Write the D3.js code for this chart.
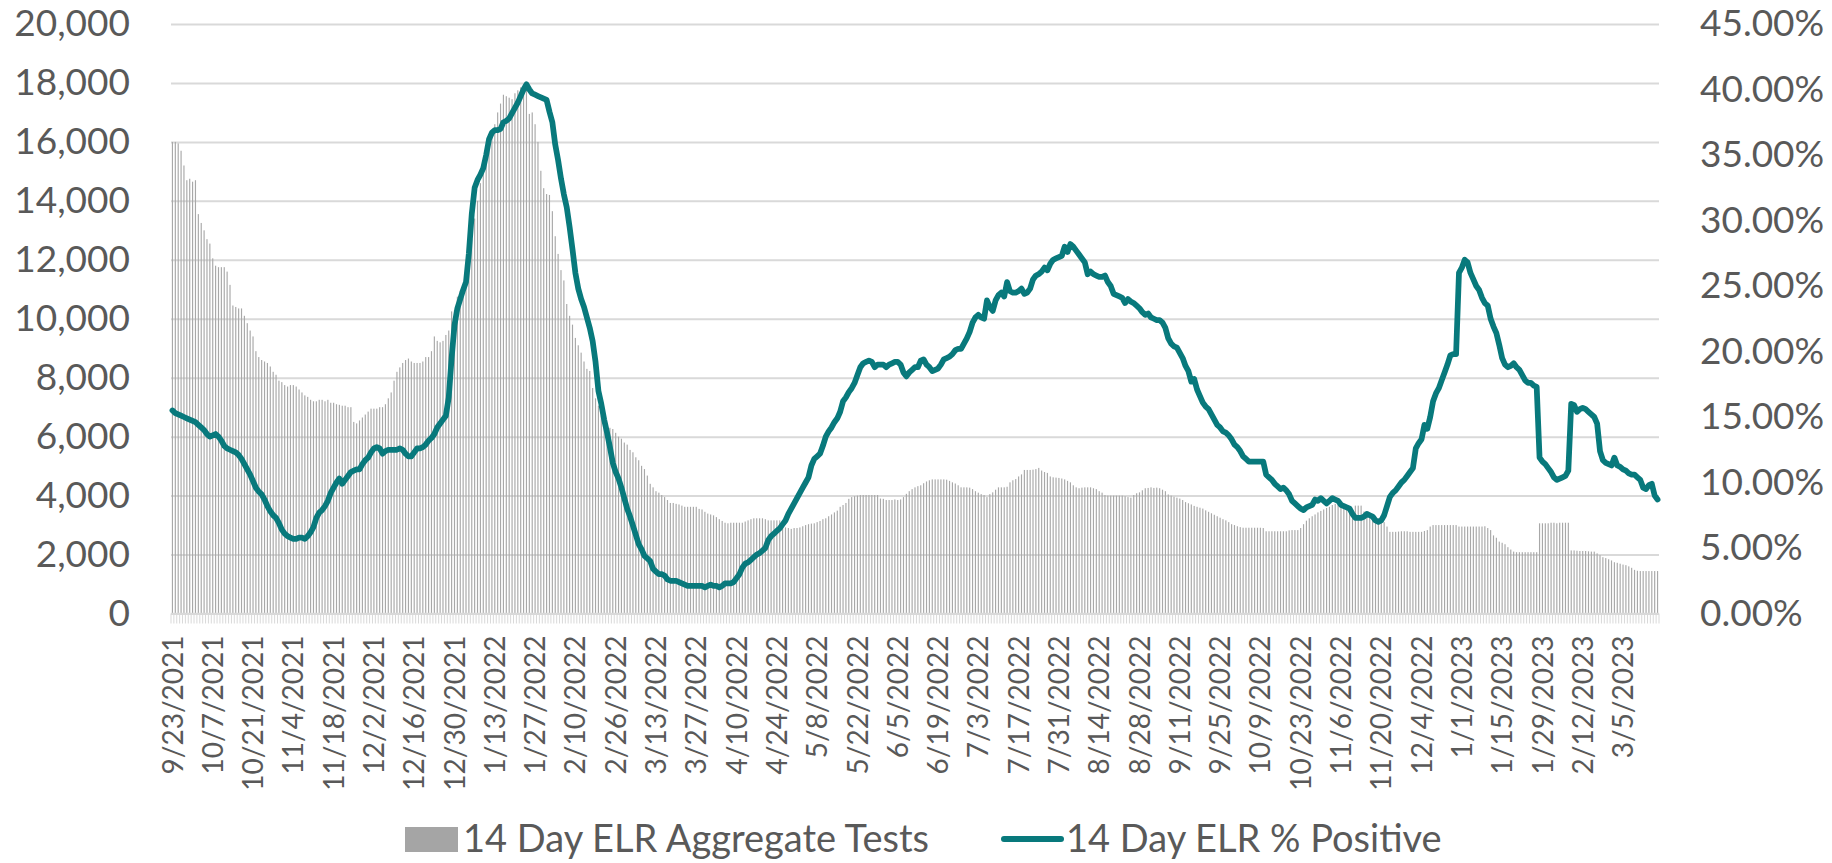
<!DOCTYPE html>
<html>
<head>
<meta charset="utf-8">
<script src="https://cdn.jsdelivr.net/npm/d3@7"></script>
<style>
  html, body { margin: 0; padding: 0; background: #ffffff; }
  svg { display: block; }
  text { font-family: Lato, "Open Sans", sans-serif; fill: #595959; }
</style>
</head>
<body>
<svg id="chart" width="1832" height="863"></svg>
<script>
// ---------------- DATA ----------------
const tickLabels = [
  "9/23/2021","10/7/2021","10/21/2021","11/4/2021","11/18/2021","12/2/2021","12/16/2021","12/30/2021",
  "1/13/2022","1/27/2022","2/10/2022","2/26/2022","3/13/2022","3/27/2022","4/10/2022","4/24/2022",
  "5/8/2022","5/22/2022","6/5/2022","6/19/2022","7/3/2022","7/17/2022","7/31/2022","8/14/2022",
  "8/28/2022","9/11/2022","9/25/2022","10/9/2022","10/23/2022","11/6/2022","11/20/2022","12/4/2022",
  "1/1/2023","1/15/2023","1/29/2023","2/12/2023","3/5/2023"
];
const labelEvery = 14;

const leftTicks = [0,2000,4000,6000,8000,10000,12000,14000,16000,18000,20000];
const rightTicks = [0,5,10,15,20,25,30,35,40,45];

const seriesNames = ["14 Day ELR Aggregate Tests", "14 Day ELR % Positive"];

// 14 Day ELR Aggregate Tests (one value per category)
const aggregateTests = [
  16000,16000,15950,15700,15200,14700,14750,14650,14700,13550,13250,13000,12700,12550,
  12050,11800,11750,11750,11750,11600,11150,10450,10400,10350,10350,10100,9850,9600,
  9400,8900,8700,8600,8550,8500,8380,8200,8100,7900,7850,7750,7700,7750,
  7750,7700,7600,7500,7400,7350,7250,7200,7200,7250,7250,7200,7250,7150,
  7150,7100,7080,7050,7050,7000,7000,6500,6450,6550,6650,6750,6850,6950,
  6950,6950,7000,7000,7100,7300,7500,7900,8200,8350,8500,8600,8650,8550,
  8500,8500,8500,8550,8700,8700,8900,9400,9250,9200,9250,9450,9600,10250,
  10300,10750,10950,11100,11350,12000,12700,13400,14000,14600,15000,15400,15800,16200,
  16600,17000,17300,17600,17550,17500,17450,17650,17750,17850,17950,17900,16950,17000,
  16600,16000,15020,14430,14230,14200,13650,12800,12200,11650,11300,10500,10100,9800,
  9350,9100,8850,8550,8300,8230,7650,7300,7050,6720,6460,6320,6300,6260,
  6130,6000,5930,5800,5730,5550,5470,5300,5200,5010,4900,4680,4400,4280,
  4150,4100,4020,3950,3850,3750,3750,3720,3700,3660,3620,3620,3620,3620,
  3620,3550,3530,3450,3390,3360,3330,3270,3200,3140,3080,3060,3080,3080,
  3080,3080,3080,3120,3160,3200,3230,3230,3230,3230,3200,3160,3160,3160,
  3160,3160,3050,2920,2900,2870,2900,2900,2920,2960,3000,3030,3050,3060,
  3100,3140,3200,3230,3300,3360,3430,3490,3620,3680,3750,3890,3950,3980,
  4000,4020,4020,4020,4020,4020,4020,4020,3900,3890,3850,3850,3850,3870,
  3850,3870,3950,4060,4150,4220,4280,4320,4350,4420,4480,4520,4550,4550,
  4550,4550,4550,4540,4500,4450,4410,4350,4280,4280,4280,4270,4220,4150,
  4100,4050,4020,3950,4050,4110,4200,4280,4280,4280,4300,4450,4520,4560,
  4650,4720,4870,4870,4870,4880,4900,4940,4850,4800,4770,4650,4620,4610,
  4600,4580,4550,4500,4450,4350,4280,4250,4270,4280,4280,4280,4250,4220,
  4150,4100,4020,4000,4000,4000,4000,4000,4000,3980,3950,3930,4020,4080,
  4110,4180,4250,4260,4280,4260,4270,4250,4200,4150,4040,4000,3960,3930,
  3900,3850,3780,3740,3700,3650,3620,3590,3560,3500,3450,3400,3350,3300,
  3250,3200,3160,3100,3030,3000,2960,2930,2910,2910,2910,2910,2910,2910,
  2910,2900,2790,2790,2790,2790,2790,2790,2790,2790,2820,2830,2830,2830,
  2900,3030,3150,3230,3300,3360,3430,3480,3530,3580,3620,3680,3720,3690,
  3660,3620,3580,3500,3490,3660,3660,3660,3460,3440,3430,3300,3290,3230,
  3180,3100,2950,2770,2770,2770,2780,2790,2790,2790,2770,2770,2770,2770,
  2770,2800,2830,2950,3000,3000,3000,3000,3000,3000,3000,3000,3000,2950,
  2950,2950,2950,2950,2950,2950,2950,2950,2960,2900,2830,2650,2570,2440,
  2400,2350,2250,2170,2100,2080,2080,2080,2080,2080,2080,2080,2080,3060,
  3060,3060,3060,3080,3080,3060,3080,3080,3080,3080,2140,2140,2130,2120,
  2120,2120,2110,2100,2100,2040,1980,1910,1880,1840,1800,1740,1720,1690,
  1660,1640,1600,1550,1480,1450,1440,1440,1440,1440,1440,1440,1440
];

// 14 Day ELR % Positive (percent, one value per category)
const percentPositive = [
  15.5,15.3,15.2,15.1,15.0,14.9,14.8,14.7,14.6,14.4,14.2,14.0,13.7,13.5,
  13.6,13.7,13.5,13.2,12.8,12.6,12.5,12.4,12.3,12.1,11.8,11.4,11.0,10.6,
  10.1,9.6,9.3,9.1,8.7,8.2,7.8,7.5,7.3,6.9,6.4,6.1,5.9,5.8,
  5.7,5.7,5.8,5.8,5.7,5.9,6.2,6.6,7.3,7.7,7.9,8.2,8.6,9.2,
  9.6,10.0,10.3,9.9,10.2,10.5,10.8,10.9,11.0,11.0,11.4,11.7,11.9,12.3,
  12.6,12.7,12.6,12.2,12.4,12.5,12.5,12.5,12.5,12.6,12.5,12.2,12.0,12.0,
  12.3,12.6,12.6,12.7,12.9,13.2,13.4,13.7,14.2,14.5,14.8,15.1,16.5,19.5,
  22.0,23.3,24.0,24.7,25.3,27.5,30.5,32.5,33.1,33.5,34.0,35.0,36.2,36.7,
  36.9,36.9,37.0,37.5,37.6,37.8,38.2,38.6,39.0,39.5,40.0,40.4,40.0,39.7,
  39.6,39.5,39.4,39.3,39.2,38.3,37.5,35.8,34.6,33.2,32.0,31.0,29.5,27.8,
  26.0,24.8,24.0,23.4,22.6,21.8,20.8,19.2,17.0,16.0,14.8,13.8,12.7,11.5,
  10.8,10.3,9.6,8.8,8.0,7.4,6.7,6.0,5.3,4.9,4.4,4.2,4.0,3.4,
  3.2,3.0,3.0,2.9,2.6,2.5,2.5,2.5,2.4,2.3,2.2,2.1,2.1,2.1,
  2.1,2.1,2.1,2.0,2.1,2.2,2.1,2.1,2.0,2.1,2.3,2.3,2.3,2.4,
  2.7,3.0,3.5,3.8,3.9,4.1,4.3,4.5,4.6,4.8,5.0,5.6,5.9,6.1,
  6.3,6.5,6.8,7.1,7.6,8.0,8.4,8.8,9.2,9.6,10.0,10.4,11.3,11.8,
  12.0,12.2,12.8,13.5,13.9,14.2,14.6,14.9,15.4,16.2,16.5,16.9,17.2,17.6,
  18.2,18.8,19.1,19.2,19.3,19.2,18.8,19.0,19.0,19.0,18.8,19.0,19.1,19.2,
  19.2,19.0,18.4,18.1,18.4,18.6,18.8,18.8,19.3,19.4,19.0,18.8,18.5,18.6,
  18.7,19.0,19.4,19.5,19.6,19.8,20.1,20.2,20.2,20.6,21.0,21.5,22.2,22.6,
  22.8,22.6,22.5,23.9,23.4,23.1,23.9,24.3,24.5,24.2,25.3,24.6,24.5,24.5,
  24.6,24.8,24.4,24.5,24.8,25.5,25.8,25.9,26.1,26.4,26.2,26.7,27.0,27.1,
  27.2,27.3,28.0,27.6,28.2,28.0,27.7,27.4,27.1,26.8,25.9,26.1,25.9,25.8,
  25.7,25.7,25.8,25.3,25.0,24.4,24.3,24.2,24.1,23.7,24.0,23.8,23.7,23.5,
  23.3,23.0,22.8,22.9,22.6,22.5,22.4,22.4,22.2,21.8,21.0,20.6,20.4,20.3,
  19.9,19.5,18.9,18.5,17.7,17.9,17.1,16.6,16.1,15.8,15.6,15.2,14.8,14.4,
  14.2,13.9,13.8,13.6,13.3,12.9,12.7,12.4,12.0,11.8,11.6,11.6,11.6,11.6,
  11.6,11.6,10.6,10.4,10.2,9.9,9.7,9.5,9.6,9.4,9.1,8.6,8.4,8.2,
  8.0,7.9,8.1,8.2,8.3,8.7,8.6,8.8,8.6,8.4,8.6,8.8,8.7,8.6,
  8.3,8.2,8.1,8.0,7.6,7.3,7.3,7.3,7.4,7.6,7.5,7.4,7.1,7.0,
  7.1,7.5,8.2,8.9,9.2,9.4,9.7,10.0,10.2,10.5,10.8,11.1,12.6,13.0,
  13.3,14.4,14.1,15.0,16.2,16.8,17.2,17.8,18.4,19.0,19.7,19.8,19.8,26.0,
  26.4,27.0,26.8,26.0,25.5,25.0,24.7,24.1,23.7,23.5,22.5,21.9,21.4,20.5,
  19.5,19.0,18.8,18.9,19.1,18.8,18.6,18.2,17.8,17.6,17.6,17.4,17.3,11.9,
  11.6,11.4,11.1,10.8,10.4,10.2,10.3,10.4,10.5,10.9,16.0,15.9,15.4,15.6,
  15.7,15.6,15.4,15.2,15.0,14.5,12.4,11.7,11.5,11.4,11.3,11.9,11.3,11.2,
  11.0,10.9,10.7,10.6,10.6,10.4,10.2,9.6,9.5,9.8,9.9,9.0,8.7
];

// ---------------- LAYOUT ----------------
const W = 1832, H = 863;
const plot = { left: 171, right: 1659, top: 24, bottom: 613.5 };
const colors = { bar: "#a8a8a8", legendBar: "#a5a5a5", line: "#08797c", grid: "#d9d9d9", text: "#595959" };

const svg = d3.select("#chart");
svg.append("rect").attr("width", W).attr("height", H).attr("fill", "#fff");

const N = aggregateTests.length;
const idx = d3.range(N);
const barPad = 0.6;
const x = d3.scaleBand().domain(idx).range([plot.left, plot.right])
  .paddingInner(barPad).paddingOuter(barPad / 2);
const step = x.step();
const xc = i => x(i) + x.bandwidth() / 2;

const yL = d3.scaleLinear().domain([0, 20000]).range([plot.bottom, plot.top]);
const yR = d3.scaleLinear().domain([0, 45]).range([plot.bottom, plot.top]);

// gridlines
const grid = svg.append("g").attr("transform", `translate(${plot.left},0)`)
  .call(d3.axisLeft(yL).tickValues(leftTicks).tickSize(-(plot.right - plot.left)).tickFormat(""));
grid.select(".domain").remove();
grid.selectAll("line").attr("stroke", colors.grid).attr("stroke-width", 2);

// category tick marks (between categories)
const tickG = svg.append("g");
tickG.selectAll("line").data(d3.range(N + 1)).join("line")
  .attr("x1", i => plot.left + i * step).attr("x2", i => plot.left + i * step)
  .attr("y1", plot.bottom).attr("y2", plot.bottom + 10)
  .attr("stroke", colors.grid).attr("stroke-width", 1);

// bars
svg.append("g").selectAll("rect").data(aggregateTests).join("rect")
  .attr("x", (d, i) => x(i))
  .attr("width", x.bandwidth())
  .attr("y", d => yL(d))
  .attr("height", d => yL(0) - yL(d))
  .attr("fill", colors.bar);

// axis line
svg.append("line").attr("x1", plot.left).attr("x2", plot.right)
  .attr("y1", plot.bottom).attr("y2", plot.bottom)
  .attr("stroke", colors.grid).attr("stroke-width", 1.5);

// line
const line = d3.line().x((d, i) => xc(i)).y(d => yR(d)).curve(d3.curveLinear);
svg.append("path").datum(percentPositive)
  .attr("d", line).attr("fill", "none")
  .attr("stroke", colors.line).attr("stroke-width", 5.75)
  .attr("stroke-linejoin", "round").attr("stroke-linecap", "round");

// left axis labels
const axL = svg.append("g").attr("transform", `translate(${plot.left},0)`)
  .call(d3.axisLeft(yL).tickValues(leftTicks).tickSize(0).tickPadding(41).tickFormat(d3.format(",")));
axL.select(".domain").remove();
axL.selectAll("text").attr("font-size", 37).attr("font-family", "Lato").attr("fill", colors.text);

// right axis labels
const axR = svg.append("g").attr("transform", `translate(${plot.right},0)`)
  .call(d3.axisRight(yR).tickValues(rightTicks).tickSize(0).tickPadding(41).tickFormat(d => d3.format(".2f")(d) + "%"));
axR.select(".domain").remove();
axR.selectAll("text").attr("font-size", 37).attr("font-family", "Lato").attr("fill", colors.text);

// bottom axis labels
const tickIdx = tickLabels.map((t, k) => k * labelEvery);
const axB = svg.append("g").attr("transform", `translate(0,${plot.bottom})`)
  .call(d3.axisBottom(x).tickValues(tickIdx).tickSize(0)
    .tickFormat(i => tickLabels[i / labelEvery]));
axB.select(".domain").remove();
axB.selectAll("text")
  .attr("font-size", 28).attr("font-family", "Lato").attr("fill", colors.text)
  .attr("transform", "rotate(-90)")
  .attr("text-anchor", "end")
  .attr("x", -22).attr("y", 0).attr("dy", "0.36em");

// legend
const lg = svg.append("g");
const legY = 839;
lg.append("rect").attr("x", 405).attr("y", legY - 12).attr("width", 53).attr("height", 25).attr("fill", colors.legendBar);
lg.append("text").attr("x", 463).attr("y", legY).attr("dy", "0.35em")
  .attr("font-size", 38).text(seriesNames[0]);
lg.append("line").attr("x1", 1004).attr("x2", 1061).attr("y1", legY).attr("y2", legY)
  .attr("stroke", colors.line).attr("stroke-width", 6).attr("stroke-linecap", "round");
lg.append("text").attr("x", 1066).attr("y", legY).attr("dy", "0.35em")
  .attr("font-size", 38).text(seriesNames[1]);
</script>
</body>
</html>
